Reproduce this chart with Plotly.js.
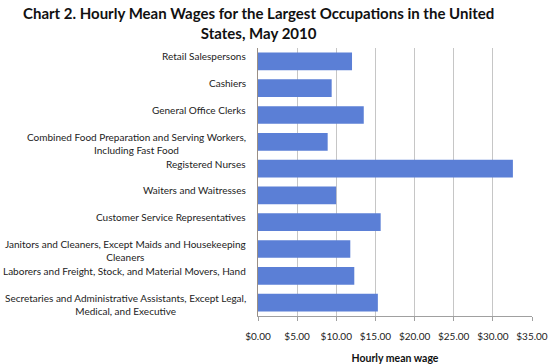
<!DOCTYPE html>
<html>
<head>
<meta charset="utf-8">
<script src="https://cdn.plot.ly/plotly-3.0.1.min.js"></script>
<style>html,body{margin:0;padding:0;background:#fff;}#chart{width:550px;height:364px;}</style>
</head>
<body>
<div id="chart"></div>
<script>
const occupations = [
  "Retail Salespersons",
  "Cashiers",
  "General Office Clerks",
  "Combined Food Preparation and Serving Workers,<br>Including Fast Food",
  "Registered Nurses",
  "Waiters and Waitresses",
  "Customer Service Representatives",
  "Janitors and Cleaners, Except Maids and Housekeeping<br>Cleaners",
  "Laborers and Freight, Stock, and Material Movers, Hand",
  "Secretaries and Administrative Assistants, Except Legal,<br>Medical, and Executive"
];
const hourlyMeanWage = [12.01, 9.41, 13.51, 8.90, 32.56, 9.98, 15.67, 11.79, 12.30, 15.31];
const tickValues = [0, 5, 10, 15, 20, 25, 30, 35];
const tickLabels = ["$0.00", "$5.00", "$10.00", "$15.00", "$20.00", "$25.00", "$30.00", "$35.00"];
const chartTitle = "<b>Chart 2. Hourly Mean Wages for the Largest Occupations in the United<br>States, May 2010</b>";

const font = "Lato, 'Open Sans', sans-serif";

const trace = {
  type: "bar",
  orientation: "h",
  x: hourlyMeanWage,
  y: occupations,
  marker: {color: "#5b7fd6"},
  width: 0.66,
  hoverinfo: "x+y"
};

const annotations = occupations.map(function (name) {
  return {
    text: name,
    xref: "paper", yref: "y",
    x: 0, y: name,
    xanchor: "right", yanchor: "top",
    xshift: -10, yshift: 13,
    align: "center",
    showarrow: false,
    font: {family: font, size: 10, color: "#222"}
  };
});
annotations.push({
  text: chartTitle,
  xref: "paper", yref: "paper",
  x: 0, y: 1,
  xanchor: "center", yanchor: "top",
  xshift: 0, yshift: 46,
  align: "center",
  showarrow: false,
  font: {family: font, size: 15, color: "#111"}
});

const layout = {
  width: 550, height: 364,
  margin: {l: 258, r: 18, t: 48, b: 48},
  paper_bgcolor: "#fff", plot_bgcolor: "#fff",
  showlegend: false,
  xaxis: {
    range: [0, 35],
    tickvals: tickValues,
    ticktext: tickLabels,
    showgrid: true, gridcolor: "#c6c6c6", gridwidth: 1,
    zeroline: false,
    showline: true, linecolor: "#a0a0a0", linewidth: 1,
    ticks: "outside", ticklen: 4, tickcolor: "#a0a0a0",
    ticklabelstandoff: 7,
    tickfont: {family: font, size: 10, color: "#222"},
    title: {text: "<b>Hourly mean wage</b>", font: {family: font, size: 10.5, color: "#111"}, standoff: 17},
    fixedrange: true
  },
  yaxis: {
    type: "category",
    autorange: "reversed",
    showticklabels: false,
    showgrid: false, zeroline: false,
    showline: true, linecolor: "#9a8f85", linewidth: 1,
    ticks: "", fixedrange: true
  },
  annotations: annotations
};

// place the title centre at about x = 258 px on the page
layout.annotations[layout.annotations.length - 1].x = (258 - layout.margin.l) / (550 - layout.margin.l - layout.margin.r);

Plotly.newPlot("chart", [trace], layout, {displayModeBar: false, staticPlot: true});
</script>
</body>
</html>
